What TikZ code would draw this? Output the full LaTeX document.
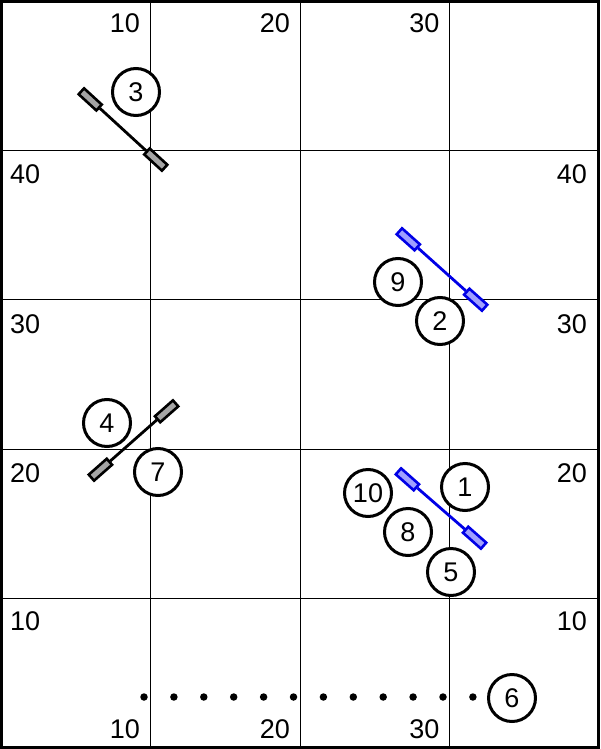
\documentclass[tikz,border=0pt]{standalone}
\usepackage{fontspec}
\setmainfont{Liberation Sans}
\definecolor{oarblue}{RGB}{0,0,230}
\definecolor{oarbluefill}{RGB}{160,160,255}
\definecolor{oargray}{RGB}{165,165,165}
\begin{document}
\begin{tikzpicture}[x=1pt,y=-1pt,
  lbl/.style={inner sep=0pt,font=\fontsize{27}{32}\selectfont},
  num/.style={circle,draw,line width=3pt,minimum size=47pt,inner sep=0pt,font=\fontsize{27}{32}\selectfont},
  grid/.style={line width=1pt},
  blade/.style={rectangle,draw,line width=2.6pt,minimum width=24pt,minimum height=8pt,inner sep=0pt},
  blackblade/.style={blade,draw=black,fill=oargray},
  blueblade/.style={blade,draw=oarblue,fill=oarbluefill},
  shaft/.style={line width=2.8pt},
  dot/.style={circle,fill,inner sep=0pt,minimum size=7.5pt}]
\useasboundingbox (0,0) rectangle (600,749);
% grid
\draw[grid] (150,0) -- (150,749);
\draw[grid] (300,0) -- (300,749);
\draw[grid] (449.5,0) -- (449.5,749);
\draw[grid] (0,150) -- (600,150);
\draw[grid] (0,299.5) -- (600,299.5);
\draw[grid] (0,449) -- (600,449);
\draw[grid] (0,598) -- (600,598);
\draw[line width=3pt] (1.5,1.5) rectangle (598.5,747.5);
% top labels
\node[lbl,anchor=base east] (t10) at (140,33) {10};
\node[lbl,anchor=base east] (t20) at (290,33) {20};
\node[lbl,anchor=base east] (t30) at (439.5,33) {30};
% bottom labels
\node[lbl,anchor=base east] (b10) at (140,738) {10};
\node[lbl,anchor=base east] (b20) at (290,738) {20};
\node[lbl,anchor=base east] (b30) at (439.5,738) {30};
% left labels
\node[lbl,anchor=base west] (l40) at (10,183) {40};
\node[lbl,anchor=base west] (l30) at (10,333) {30};
\node[lbl,anchor=base west] (l20) at (10,482) {20};
\node[lbl,anchor=base west] (l10) at (10,630) {10};
% right labels
\node[lbl,anchor=base east] (r40) at (587,183) {40};
\node[lbl,anchor=base east] (r30) at (587,333) {30};
\node[lbl,anchor=base east] (r20) at (587,482) {20};
\node[lbl,anchor=base east] (r10) at (587,630) {10};
% oars
\node[blackblade,rotate=-42.5] (o3a) at (90.2,99.4) {};
\node[blackblade,rotate=-42.5] (o3b) at (155.8,159.6) {};
\draw[shaft] (o3a) -- (o3b);
\node[blueblade,rotate=-41.8] (o9a) at (408.3,239.3) {};
\node[blueblade,rotate=-41.8] (o9b) at (475.7,299.7) {};
\draw[shaft,oarblue] (o9a) -- (o9b);
\node[blackblade,rotate=41.4] (o4a) at (166.6,411.3) {};
\node[blackblade,rotate=41.4] (o4b) at (100.4,469.7) {};
\draw[shaft] (o4a) -- (o4b);
\node[blueblade,rotate=-41.5] (o1a) at (407.4,479.3) {};
\node[blueblade,rotate=-41.5] (o1b) at (474.6,537.7) {};
\draw[shaft,oarblue] (o1a) -- (o1b);
% numbered circles
\node[num,fill=white] (n3) at (136,92) {3};
\node[num,fill=white] (n9) at (398,282) {9};
\node[num,fill=white] (n2) at (440,321) {2};
\node[num,fill=white] (n4) at (107,423) {4};
\node[num,fill=white] (n7) at (158,472) {7};
\node[num,fill=white] (n10) at (368,493) {10};
\node[num,fill=white] (n1) at (465,487) {1};
\node[num,fill=white] (n8) at (408,532) {8};
\node[num,fill=white] (n5) at (451,572) {5};
\node[num,fill=white] (n6) at (512,698) {6};
% dots
\foreach \i in {0,...,11} {
  \node[dot] (d\i) at ({144+29.9*\i},697) {};
}
\end{tikzpicture}
\end{document}
